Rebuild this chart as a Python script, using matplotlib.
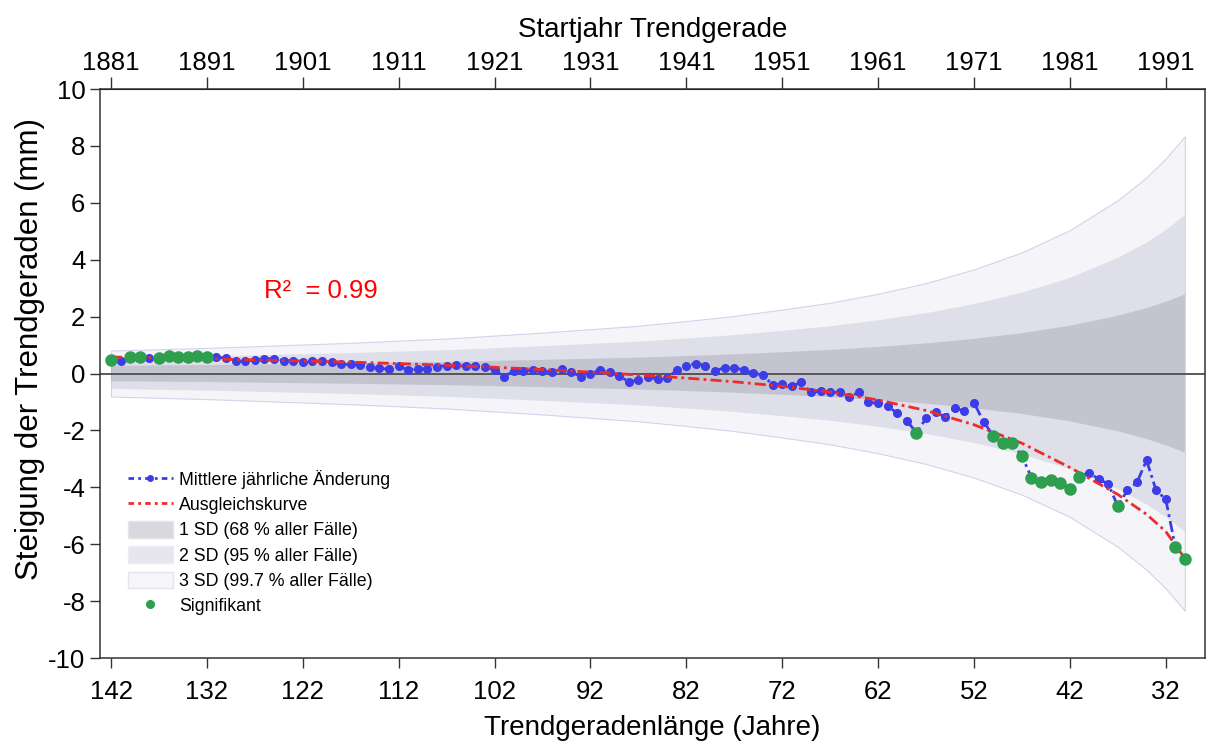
import numpy as np
import matplotlib.pyplot as plt
from matplotlib.patches import Patch
from matplotlib.lines import Line2D

plt.rcParams['font.family'] = ['Liberation Sans', 'DejaVu Sans']
plt.rcParams['axes.unicode_minus'] = False

# Trendgeradenlänge in Jahren (Startjahr = 2023 - Länge)
laenge = np.arange(142, 29, -1)
steigung = [0.47, 0.44, 0.59, 0.59, 0.53, 0.56, 0.63, 0.59, 0.59, 0.62,
            0.59, 0.59, 0.53, 0.45, 0.45, 0.47, 0.52, 0.52, 0.45, 0.45,
            0.42, 0.45, 0.44, 0.39, 0.33, 0.32, 0.31, 0.22, 0.19, 0.15,
            0.26, 0.12, 0.16, 0.17, 0.24, 0.28, 0.31, 0.28, 0.25, 0.24,
            0.12, -0.11, 0.09, 0.08, 0.11, 0.09, 0.06, 0.16, 0.06, -0.11,
            -0.01, 0.13, 0.04, -0.09, -0.29, -0.23, -0.13, -0.19, -0.17, 0.12,
            0.28, 0.35, 0.28, 0.09, 0.21, 0.21, 0.12, 0.01, -0.05, -0.40,
            -0.37, -0.44, -0.31, -0.66, -0.62, -0.66, -0.66, -0.84, -0.65, -1.01,
            -1.05, -1.14, -1.40, -1.66, -2.08, -1.58, -1.37, -1.52, -1.22, -1.31,
            -1.03, -1.69, -2.18, -2.45, -2.45, -2.90, -3.66, -3.83, -3.74, -3.84,
            -4.07, -3.63, -3.49, -3.71, -3.88, -4.66, -4.11, -3.83, -3.05, -4.11,
            -4.42, -6.09, -6.52]

# signifikante Trends
signifikant = [142, 140, 139, 137, 136, 135, 134, 133, 132, 58,
               50, 49, 48, 47, 46, 45, 44, 43, 42, 41, 37, 31, 30]

# Ausgleichskurve und Standardabweichung
kurve_laenge = [142, 137, 132, 127, 122, 117, 112, 107, 102, 97, 92, 87, 82,
                77, 72, 67, 62, 57, 52, 47, 42, 37, 34, 32, 30]
kurve_wert = [0.58, 0.55, 0.52, 0.48, 0.44, 0.40, 0.35, 0.29, 0.22, 0.14,
              0.05, -0.05, -0.16, -0.29, -0.45, -0.65, -0.93, -1.30, -1.80,
              -2.45, -3.30, -4.25, -4.95, -5.55, -6.50]
sd_wert = [0.27, 0.285, 0.30, 0.32, 0.34, 0.36, 0.385, 0.41, 0.445, 0.48,
           0.52, 0.56, 0.615, 0.675, 0.75, 0.83, 0.935, 1.06, 1.22, 1.42,
           1.68, 2.03, 2.30, 2.52, 2.78]

sd = np.array(sd_wert)
werte = dict(zip(laenge, steigung))
sig_wert = [werte[n] for n in signifikant]

fig = plt.figure(figsize=(12.06, 7.42), dpi=100)
ax = fig.add_axes([0.0829, 0.1132, 0.9163, 0.7668])

# SD-Bänder
ax.fill_between(kurve_laenge, -3 * sd, 3 * sd, facecolor='#e4e4f2', alpha=0.4,
                edgecolor='#9c9cd0', lw=0.8, zorder=1)
ax.fill_between(kurve_laenge, -2 * sd, 2 * sd, facecolor='#c7c7d9', alpha=0.45,
                edgecolor='none', zorder=1)
ax.fill_between(kurve_laenge, -sd, sd, facecolor='#9b9baa', alpha=0.39,
                edgecolor='none', zorder=1)

ax.axhline(0, color='#4d4d4d', lw=1.3, zorder=2)

ax.plot(laenge, steigung, color='#3c3ce8', lw=2, dashes=(4, 1.5, 1, 1.5),
        marker='o', ms=5.5, zorder=3)
ax.plot(kurve_laenge, kurve_wert, color='#ee2b2b', lw=2, dashes=(4, 1.5, 1, 1.5),
        zorder=4)
ax.plot(signifikant, sig_wert, 'o', color='#2e9e4f', ms=8, zorder=5)

ax.text(126, 2.9, 'R²  = 0.99', color='red', fontsize=18.5, va='center')

ax.set_xlim(143.15, 27.9)
ax.set_ylim(-10, 10)
ax.set_xticks(range(142, 31, -10))
ax.set_yticks(range(-10, 11, 2))
ax.tick_params(direction='out', length=7, width=1, labelsize=18.5, color='#333333')
ax.tick_params(axis='x', pad=9)
ax.set_xlabel('Trendgeradenlänge (Jahre)', fontsize=20, labelpad=8)
ax.set_ylabel('Steigung der Trendgeraden (mm)', fontsize=22.5, labelpad=4)
ax.yaxis.set_label_coords(-0.05, 0.543)
for s in ax.spines.values():
    s.set_color('#333333')
    s.set_linewidth(1.1)

secax = ax.secondary_xaxis('top', functions=(lambda n: 2023 - n, lambda j: 2023 - j))
secax.set_xticks(range(1881, 1992, 10))
secax.tick_params(direction='out', length=9, width=1, labelsize=18.5, color='#333333', pad=1)
secax.set_xlabel('Startjahr Trendgerade', fontsize=20, labelpad=10)

handles = [
    Line2D([], [], color='#3c3ce8', lw=2, dashes=(2, 1.5, 1, 1.5), marker='o', ms=4),
    Line2D([], [], color='#ee2b2b', lw=2, dashes=(2, 1.5, 1, 1.5)),
    Patch(facecolor='#d8d8de', edgecolor='#e4e4ec'),
    Patch(facecolor='#e6e6ee', edgecolor='#ececf2'),
    Patch(facecolor='#f6f6f8', edgecolor='#e4e4ec'),
    Line2D([], [], color='#2e9e4f', marker='o', ls='none', ms=5.5),
]
labels = ['Mittlere jährliche Änderung', 'Ausgleichskurve', '1 SD (68 % aller Fälle)',
          '2 SD (95 % aller Fälle)', '3 SD (99.7 % aller Fälle)', 'Signifikant']
ax.legend(handles, labels, loc='upper left', bbox_to_anchor=(0.019, 0.343),
          frameon=False, fontsize=12.8, handlelength=2.5, handleheight=1.05,
          handletextpad=0.35, labelspacing=0.39, borderaxespad=0, numpoints=1)

plt.savefig('out.png', dpi=100)
